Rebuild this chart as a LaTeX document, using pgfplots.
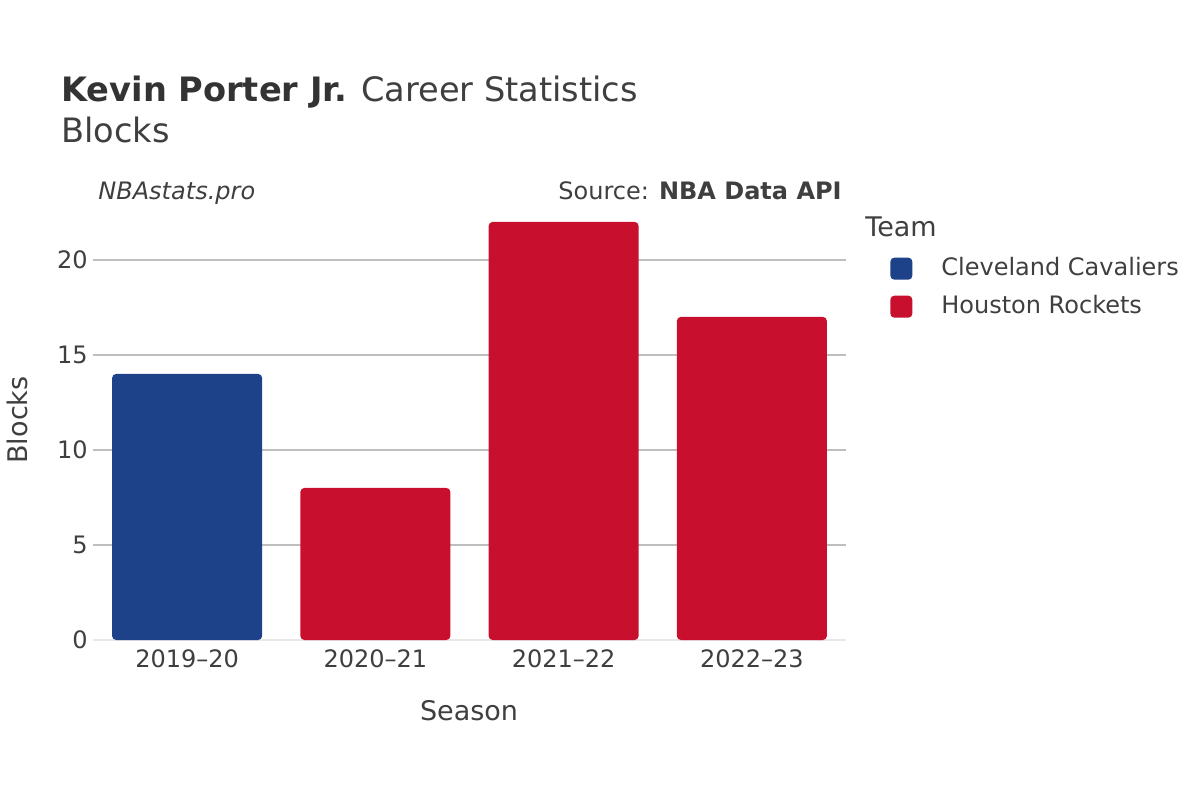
\documentclass[border=0pt]{standalone}
\usepackage{fontspec}
\setmainfont{DejaVu Sans}
\usepackage{pgfplots}
\pgfplotsset{compat=1.18}
\definecolor{cav}{HTML}{1D428A}
\definecolor{hou}{HTML}{C8102E}
\definecolor{txt}{HTML}{3F3F3F}
\definecolor{gridc}{HTML}{BEBEBE}
\definecolor{zeroc}{HTML}{E8E8E8}
\begin{document}
\begin{tikzpicture}[x=0.5pt,y=0.5pt]
\path[fill=white] (0,0) rectangle (1200,800);
\begin{axis}[at={(46.5pt,80pt)}, anchor=south west, scale only axis,
  width=376.5pt, height=219.5pt,
  xmin=-0.5, xmax=3.5, ymin=0, ymax=23.1,
  axis line style={draw=none},
  major tick length=0pt,
  ymajorgrids, grid style={gridc, line width=0.6pt},
  xtick={0,1,2,3},
  xticklabels={2019\textendash20,2020\textendash21,2021\textendash22,2022\textendash23},
  ytick={0,5,10,15,20},
  ticklabel style={font=\fontsize{12}{14}\selectfont, text=txt},
  /pgf/number format/assume math mode=true,
  yticklabel style={inner sep=2.5pt},
  xticklabel style={inner sep=4.5pt},
  legend style={at={(1.0584,0.873)}, anchor=north west, draw=none, fill=none,
    inner sep=0pt, font=\fontsize{12}{14}\selectfont, text=txt,
    nodes={inner sep=0pt, text height=9pt, text depth=2.5pt},
    /tikz/every even column/.append style={column sep=0pt},
    row sep=7.5pt},
  legend cell align=left,
]
\draw[zeroc, line width=1.5pt] (axis cs:-0.5,0) -- (axis cs:3.5,0);
\addplot[ybar, bar width=75pt, bar shift=0pt, fill=cav, draw=none, rounded corners=2pt,
  legend image code/.code={\fill[cav, rounded corners=2pt] (0pt,-5.5pt) rectangle (11pt,5.5pt); \path (25.5pt,0pt);}]
  coordinates {(0,14)};
\addlegendentry{Cleveland Cavaliers}
\addplot[ybar, bar width=75pt, bar shift=0pt, fill=hou, draw=none, rounded corners=2pt,
  legend image code/.code={\fill[hou, rounded corners=2pt] (0pt,-5.5pt) rectangle (11pt,5.5pt); \path (25.5pt,0pt);}]
  coordinates {(1,8) (2,22) (3,17)};
\addlegendentry{Houston Rockets}
\end{axis}
\node[anchor=base west, text=txt, inner sep=0pt] at (61,698) {\fontsize{16.8}{20}\selectfont\textcolor{black!80}{\textbf{Kevin Porter Jr.}} Career Statistics};
\node[anchor=base west, text=txt, inner sep=0pt] at (61,657) {\fontsize{16.8}{20}\selectfont Blocks};
\node[anchor=base west, text=txt, inner sep=0pt] at (98,601) {\fontsize{12}{14}\selectfont\itshape NBAstats.pro};
\node[anchor=base east, text=txt, inner sep=0pt] at (842,601) {\fontsize{12}{14}\selectfont Source: \textbf{NBA Data API}};
\node[anchor=base west, text=txt, inner sep=0pt] at (865,564) {\fontsize{13.5}{16}\selectfont Team};
\node[rotate=90, text=txt, inner sep=0pt] at (17,380) {\fontsize{13.5}{16}\selectfont Blocks};
\node[anchor=base, text=txt, inner sep=0pt] at (469,80) {\fontsize{13.5}{16}\selectfont Season};
\end{tikzpicture}
\end{document}
